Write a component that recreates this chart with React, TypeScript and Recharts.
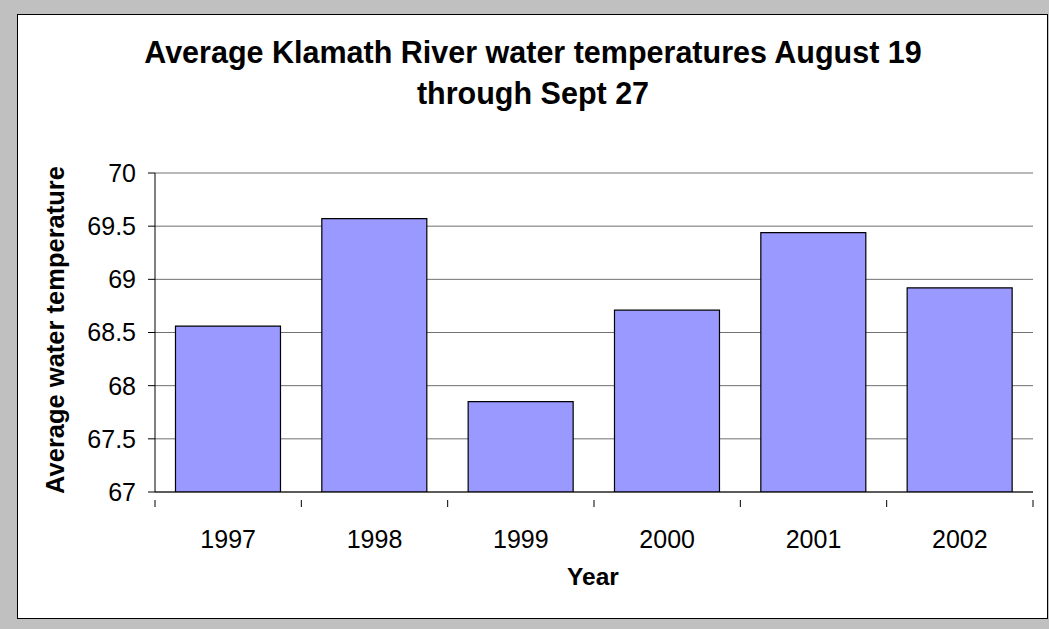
import { Bar, BarChart, CartesianGrid, XAxis, YAxis } from "recharts";

// Average Klamath River water temperatures, Aug 19 - Sept 27
const years = ["1997", "1998", "1999", "2000", "2001", "2002"];
const avgTemps = [68.56, 69.57, 67.85, 68.71, 69.44, 68.92];
const yTicks = [67, 67.5, 68, 68.5, 69, 69.5, 70];

const data = years.map((year, i) => ({ year, temp: avgTemps[i] }));

const FONT = "'Liberation Sans', Arial, sans-serif";
const W = 1049;
const H = 629;
const PLOT_LEFT = 155;
const PLOT_RIGHT = 1033;
const PLOT_TOP = 173;
const PLOT_BOTTOM = 492;
const Y_AXIS_W = 60;
const X_AXIS_H = 40;
const BAND = (PLOT_RIGHT - PLOT_LEFT) / years.length;

interface TickProps {
  x?: number;
  y?: number;
  index?: number;
  payload?: { value: string };
}

// category label in the middle, tick marks at the band edges (Excel style)
function YearTick({ x = 0, y = 0, index = 0, payload }: TickProps) {
  const left = x - BAND / 2;
  return (
    <g>
      <line x1={left} y1={y} x2={left} y2={y + 7} stroke="#000" />
      {index === years.length - 1 && (
        <line x1={x + BAND / 2} y1={y} x2={x + BAND / 2} y2={y + 7} stroke="#000" />
      )}
      <text x={x} y={y + 48} textAnchor="middle" fontSize={25} fontFamily={FONT} fill="#000">
        {payload?.value}
      </text>
    </g>
  );
}

export default function App() {
  return (
    <div style={{ position: "relative", width: W, height: H, background: "#c0c0c0" }}>
      <style>{`body { margin: 0; }`}</style>
      <div
        style={{
          position: "absolute",
          left: 17,
          top: 14,
          width: 1031,
          height: 605,
          background: "#fff",
          border: "1px solid #000",
          boxSizing: "border-box",
        }}
      />
      <div style={{ position: "absolute", left: 0, top: 0 }}>
        <BarChart
          width={W}
          height={H}
          data={data}
          barCategoryGap="14%"
          margin={{
            top: PLOT_TOP,
            left: PLOT_LEFT - Y_AXIS_W,
            right: W - PLOT_RIGHT,
            bottom: H - PLOT_BOTTOM - X_AXIS_H,
          }}
        >
          <CartesianGrid vertical={false} stroke="#707070" />
          <XAxis
            dataKey="year"
            height={X_AXIS_H}
            tickLine={false}
            axisLine={{ stroke: "#000" }}
            tick={<YearTick />}
            interval={0}
          />
          <YAxis
            domain={[67, 70]}
            ticks={yTicks}
            width={Y_AXIS_W}
            tickSize={7}
            tickMargin={12}
            interval={0}
            tick={{ fontSize: 25, fontFamily: FONT, fill: "#000" }}
            tickLine={{ stroke: "#000" }}
            axisLine={{ stroke: "#000" }}
            allowDataOverflow
          />
          <YAxis
            yAxisId="frame"
            orientation="right"
            width={0}
            tick={false}
            tickLine={false}
            axisLine={{ stroke: "#909090" }}
          />
          <Bar
            dataKey="temp"
            fill="#9999ff"
            stroke="#000"
            strokeWidth={1.2}
            isAnimationActive={false}
          />
          <text
            x={533}
            y={63}
            textAnchor="middle"
            fontSize={30.5}
            fontWeight="bold"
            fontFamily={FONT}
            fill="#000"
          >
            Average Klamath River water temperatures August 19
          </text>
          <text
            x={533}
            y={104}
            textAnchor="middle"
            fontSize={30.5}
            fontWeight="bold"
            fontFamily={FONT}
            fill="#000"
          >
            through Sept 27
          </text>
          <text
            x={64}
            y={330}
            transform="rotate(-90 64 330)"
            textAnchor="middle"
            fontSize={25.5}
            fontWeight="bold"
            fontFamily={FONT}
            fill="#000"
          >
            Average water temperature
          </text>
          <text
            x={593}
            y={585}
            textAnchor="middle"
            fontSize={24.5}
            fontWeight="bold"
            fontFamily={FONT}
            fill="#000"
          >
            Year
          </text>
        </BarChart>
      </div>
    </div>
  );
}
